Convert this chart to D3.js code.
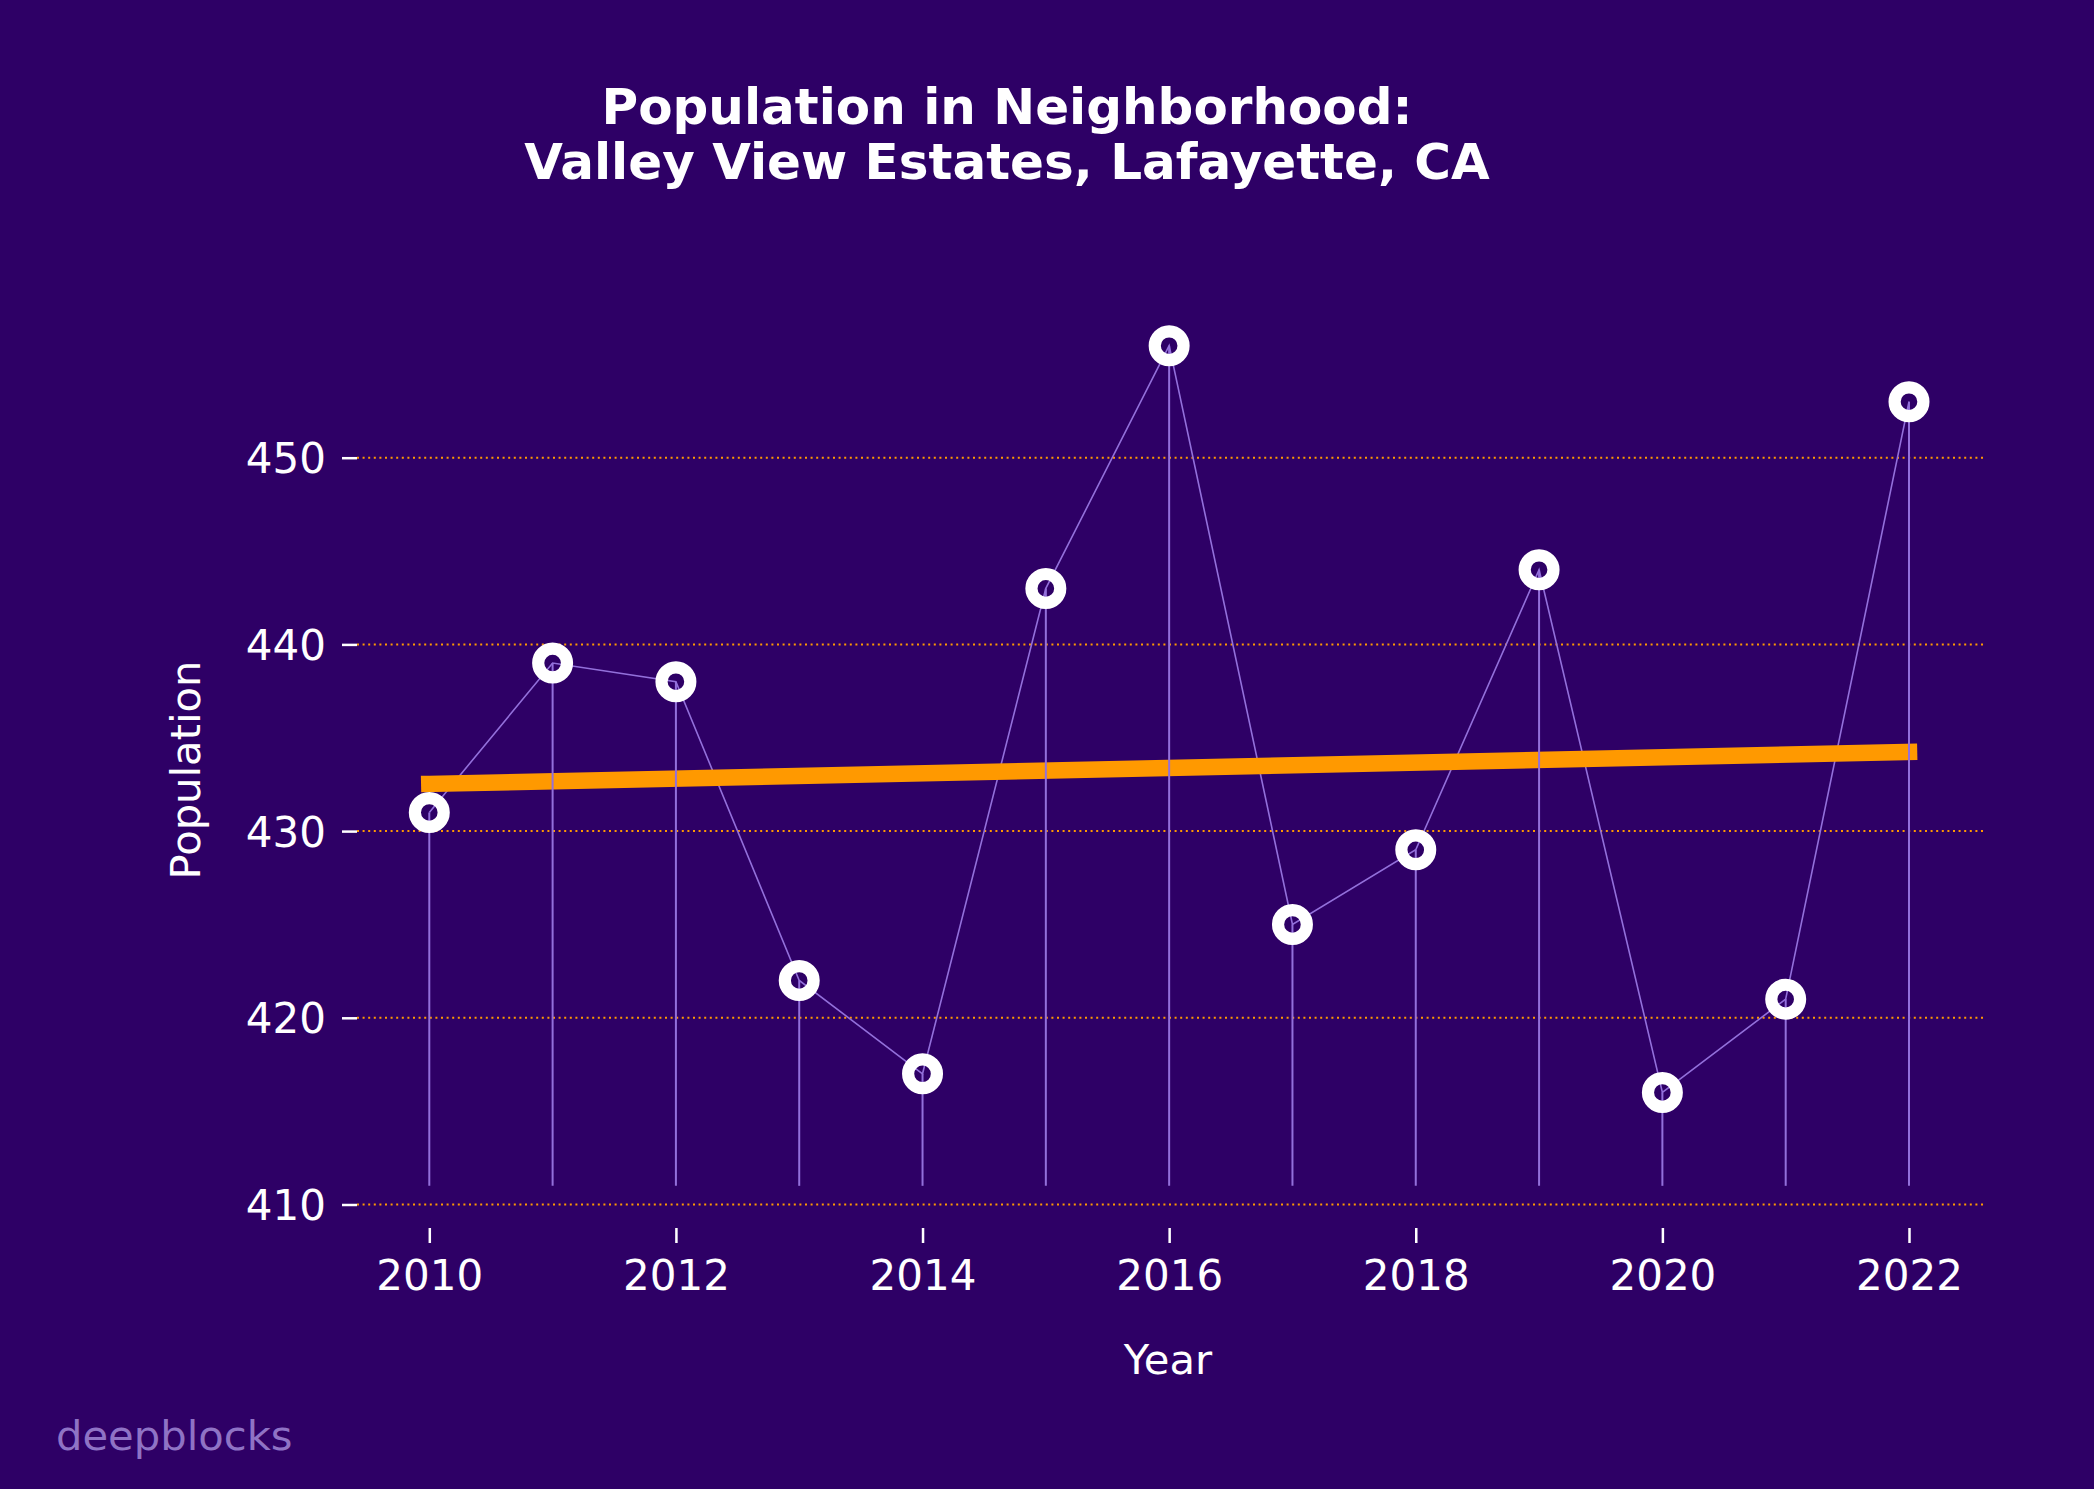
<!DOCTYPE html>
<html><head><meta charset="utf-8">
<script src="https://cdn.jsdelivr.net/npm/d3@7"></script>
<style>html,body{margin:0;padding:0;background:#2e0066;}svg{display:block;}</style>
</head><body>
<script>
const years = [2010,2011,2012,2013,2014,2015,2016,2017,2018,2019,2020,2021,2022];
const population = [431,439,438,422,417,443,456,425,429,444,416,421,453];
const xTicks = [2010,2012,2014,2016,2018,2020,2022];
const yTicks = [410,420,430,440,450];
const titleLines = ["Population in Neighborhood:", "Valley View Estates, Lafayette, CA"];
const stemBase = 411;

const W = 2094, H = 1489;
const bg = "#2e0066", purple = "#9370db", orange = "#ff9900";
const font = "'DejaVu Sans', sans-serif";

const svg = d3.select("body").append("svg").attr("width", W).attr("height", H);
svg.append("rect").attr("width", W).attr("height", H).attr("fill", bg);

const axLeft = 357, axRight = 1983, axBottom = 1228;
const x = d3.scaleLinear().domain([2010, 2022]).range([429.3, 1909]);
const y = d3.scaleLinear().domain([410, 450]).range([1204.5, 457.7]);

// grid
svg.append("g").selectAll("line").data(yTicks).join("line")
  .attr("x1", axLeft).attr("x2", axRight)
  .attr("y1", d => y(d)).attr("y2", d => y(d))
  .attr("stroke", orange).attr("stroke-width", 2).attr("stroke-dasharray", "2,3.6");

// y axis
const yAxis = d3.axisLeft(y).tickValues(yTicks).tickSize(15).tickPadding(16).tickFormat(d3.format("d"));
const gy = svg.append("g").attr("transform", `translate(${axLeft},0)`).call(yAxis);
gy.select(".domain").remove();
gy.selectAll(".tick line").attr("stroke", "#fff").attr("stroke-width", 2.5);
gy.selectAll(".tick text").attr("fill", "#fff").attr("font-family", font).attr("font-size", 42).attr("dy", "0.36em");

// x axis
const xAxis = d3.axisBottom(x).tickValues(xTicks).tickSize(15).tickPadding(15).tickFormat(d3.format("d"));
const gx = svg.append("g").attr("transform", `translate(0,${axBottom})`).call(xAxis);
gx.select(".domain").remove();
gx.selectAll(".tick line").attr("stroke", "#fff").attr("stroke-width", 2.5);
gx.selectAll(".tick text").attr("fill", "#fff").attr("font-family", font).attr("font-size", 42).attr("dy", "0.76em");

// connecting line
const pts = years.map((yr, i) => [yr, population[i]]);
svg.append("path").datum(pts)
  .attr("d", d3.line().x(d => x(d[0])).y(d => y(d[1])))
  .attr("fill", "none").attr("stroke", purple).attr("stroke-width", 1.6);

// trend line (least squares)
const mx = d3.mean(years), my = d3.mean(population);
const slope = d3.sum(years.map((v, i) => (v - mx) * (population[i] - my))) / d3.sum(years.map(v => (v - mx) ** 2));
const icpt = my - slope * mx;
const x0 = d3.min(years), x1 = d3.max(years);
svg.append("line")
  .attr("x1", x(x0)).attr("y1", y(icpt + slope * x0))
  .attr("x2", x(x1)).attr("y2", y(icpt + slope * x1))
  .attr("stroke", orange).attr("stroke-width", 16.5).attr("stroke-linecap", "square");

// stems
svg.append("g").selectAll("line").data(pts).join("line")
  .attr("x1", d => x(d[0])).attr("x2", d => x(d[0]))
  .attr("y1", y(stemBase)).attr("y2", d => y(d[1]))
  .attr("stroke", purple).attr("stroke-width", 2);

// markers
svg.append("g").selectAll("circle").data(pts).join("circle")
  .attr("cx", d => x(d[0])).attr("cy", d => y(d[1])).attr("r", 14.4)
  .attr("fill", "none").attr("stroke", "#fff").attr("stroke-width", 12.2);

// title
svg.append("g").selectAll("text").data(titleLines).join("text")
  .attr("x", 1007).attr("y", (d, i) => 124 + i * 55)
  .attr("text-anchor", "middle").attr("fill", "#fff")
  .attr("font-family", font).attr("font-weight", "bold").attr("font-size", 50)
  .text(d => d);

// axis labels
svg.append("text").attr("x", 1168).attr("y", 1374).attr("text-anchor", "middle")
  .attr("fill", "#fff").attr("font-family", font).attr("font-size", 41.7).text("Year");
svg.append("text").attr("transform", "translate(200,770) rotate(-90)").attr("text-anchor", "middle")
  .attr("fill", "#fff").attr("font-family", font).attr("font-size", 41.7).text("Population");

// watermark
svg.append("text").attr("x", 56).attr("y", 1450)
  .attr("fill", "#8f73c5").attr("font-family", font).attr("font-size", 41.7).text("deepblocks");
</script>
</body></html>
